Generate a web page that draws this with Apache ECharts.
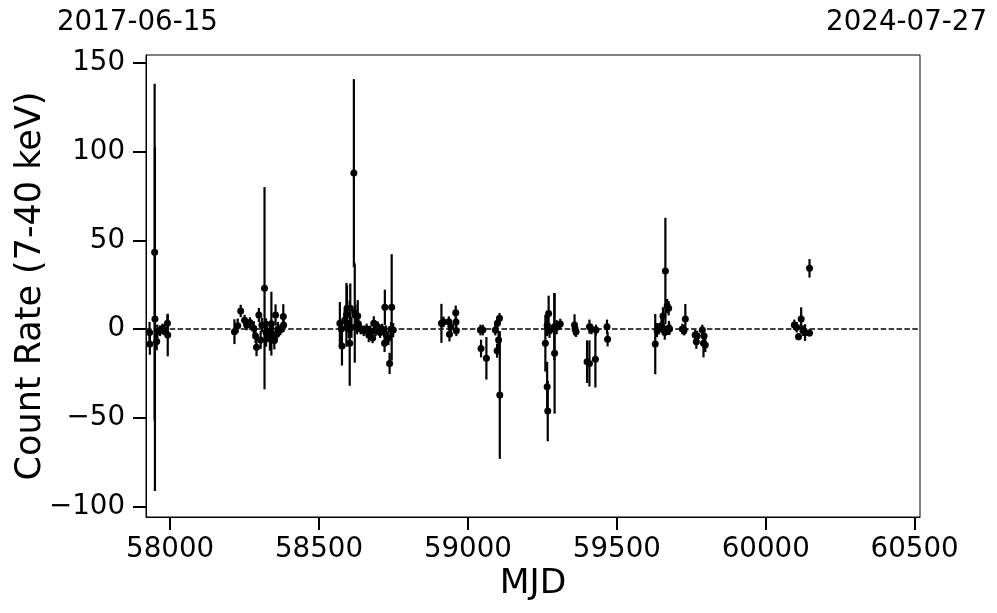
<!DOCTYPE html>
<html>
<head>
<meta charset="utf-8">
<script src="https://cdn.jsdelivr.net/npm/echarts@6/dist/echarts.min.js"></script>
<style>html,body{margin:0;padding:0;background:#fff}#c{width:997px;height:613px}</style>
</head>
<body>
<div id="c"></div>
<script>
// MJD of each observation
const mjd = [
57931,57932,57948,57949,57955,57957,57966,57974,57980,57991,57992,
58216,58227,58237,58250,58257,58268,58281,58287,58290,58298,58304,58308,58317,58322,58326,58335,58340,58345,58350,58354,58358,58362,58370,58380,58381,
58570,58575,58577,58586,58592,58594,58600,58603,58605,58609,58617,58620,58622,58628,58630,58632,58640,58650,58660,58667,58672,58680,58684,58690,58697,58705,58712,58720,58721,58725,58733,58737,58742,58744,58749,
58911,58918,58936,58938,58943,58959,58960,58961,
59042,59044,59050,59062,59092,59098,59099,59103,59106,59107,
59260,59266,59266,59268,59271,59274,59290,59291,59298,59310,59358,59360,59363,59400,59408,59408,59415,59428,59430,59467,59469,
59629,59635,59641,59650,59655,59661,59663,59669,59674,59675,59677,59720,59726,59730,59763,59767,59770,59787,59791,59793,59797,
60096,60104,60110,60119,60125,60132,60147,60147
];
// Count rate (7-40 keV)
const rate = [
-2,-8.5,43.3,5.6,-7,-1.5,-1,0,-0.5,3.2,-3.4,
-1.5,1.9,10.2,5,2.3,3.6,0.4,-4,-10.3,7.9,-6.2,2.3,23,-2,-1.5,-5.3,3,-3,-6.5,7.9,-3,0,-0.5,7,2.3,
3.2,0,-9.6,5,8,11.7,0,-8,11.7,1,87.9,9,7.9,2,7.3,3,0,-1,0,-3.4,-1,-5,3.2,-1,1.3,-2,0,-8,12.2,-3,-5,-19.4,0,12.2,-0.6,
3.2,4,4.1,-3,1.3,9.2,4,-1,
-0.6,-11,-0.6,-16.5,-0.6,-12.2,3.2,-6.2,6,-37.2,
-8,-32.5,2,-46.3,8.8,-1,1.3,-13.7,1,2.8,2.3,0,-1.5,-18.4,-19.4,1.3,0,-17,-0.6,1.3,-5.8,
-8.5,-0.6,0,2,7.3,-2,32.7,13,11.7,0.6,0,0,-0.6,5.6,-3.4,-7.2,-4,-0.6,-8,-4,-9,
2.3,1,-4.3,5.6,-1,-2,-2.2,34.2
];
// 1-sigma error
const err = [
6,6,95,97,5,4,3,3,3,5,12,
7,4,3.5,3,3,3,4,4,5,4,5,4,57,8,6,7,18,5,5,6,4,4,3,7,4,
12,5,11,6,18,13,5,24,14,6,53,28,6,5,9,4,3,3,3,4,3,3,4,3,3,3,3,5,10,5,4,6,4,30,4,
11,3,3,4,3,4,3,3,
3,5,3,12,3,4,3,5,3,36,
16,14,6,17,10,4,19,34,4,3,6,3,3,12,13,4,3,16,3,4,4,
17,4,3,4,5,4,30,4,4,4,3,3,3,8.5,3,4,3,3,8,3,4,
3,3,2,6.6,3,4.7,2,5.2
];
const xTicks = [58000,58500,59000,59500,60000,60500];
const yTicks = [-100,-50,0,50,100,150];
const xRange = [57919, 60518];
const yRange = [-106, 154.5];
const dateLeft = '2017-06-15';
const dateRight = '2024-07-27';

const pts = mjd.map((m,i)=>[m, rate[i], err[i]]);
const FONT = 'DejaVu Sans';
const TF = 27.7;
const chart = echarts.init(document.getElementById('c'), null, {renderer:'canvas'});
const minus = v => String(v).replace('-', '\u2212');
chart.setOption({
  animation:false,
  backgroundColor:'#fff',
  grid:{left:146, right:77, top:55, bottom:96, containLabel:false, outerBoundsMode:'none',
    show:true, borderColor:'#000', borderWidth:1, backgroundColor:'transparent'},
  xAxis:{
    type:'value', min:xRange[0], max:xRange[1],
    name:'MJD', nameLocation:'middle', nameGap:50, nameMoveOverlap:false,
    nameTextStyle:{fontFamily:FONT, fontSize:34.5, color:'#000'},
    axisLine:{show:true, onZero:false, lineStyle:{color:'#000', width:1}},
    axisTick:{show:true, length:13, inside:false, lineStyle:{color:'#000', width:2}, customValues:xTicks},
    axisLabel:{fontFamily:FONT, fontSize:TF, color:'#000', margin:19, customValues:xTicks, formatter:v=>String(v)},
    splitLine:{show:false}
  },
  yAxis:{
    type:'value', min:yRange[0], max:yRange[1],
    name:'Count Rate (7-40 keV)', nameLocation:'middle', nameGap:98, nameRotate:90, nameMoveOverlap:false,
    nameTextStyle:{fontFamily:FONT, fontSize:35, color:'#000'},
    axisLine:{show:true, onZero:false, lineStyle:{color:'#000', width:1}},
    axisTick:{show:true, length:13, inside:false, lineStyle:{color:'#000', width:2}, customValues:yTicks},
    axisLabel:{fontFamily:FONT, fontSize:TF, color:'#000', margin:21, customValues:yTicks, formatter:minus},
    splitLine:{show:false}
  },
  graphic:[
    {type:'text', left:57, top:9, style:{text:dateLeft, font:TF+'px "DejaVu Sans"', fill:'#000'}},
    {type:'text', right:10, top:9, style:{text:dateRight, font:TF+'px "DejaVu Sans"', fill:'#000'}}
  ],
  series:[
    {
      type:'line', data:[], z:1,
      markLine:{silent:true, symbol:'none', label:{show:false},
        lineStyle:{color:'#000', width:1.5, type:[5.5,2.4], opacity:1},
        data:[{yAxis:0}]}
    },
    {
      type:'custom', z:2, data:pts,
      renderItem:function(params, api){
        const x=api.value(0), y=api.value(1), e=api.value(2);
        const p1=api.coord([x,y-e]), p2=api.coord([x,y+e]);
        return {type:'line', shape:{x1:p1[0],y1:p1[1],x2:p2[0],y2:p2[1]}, style:{stroke:'#000', lineWidth:2.2}};
      }
    },
    {
      type:'scatter', z:3, data:pts.map(p=>[p[0],p[1]]), symbol:'circle', symbolSize:7,
      itemStyle:{color:'#000', opacity:1}
    }
  ]
});
</script>
</body>
</html>
